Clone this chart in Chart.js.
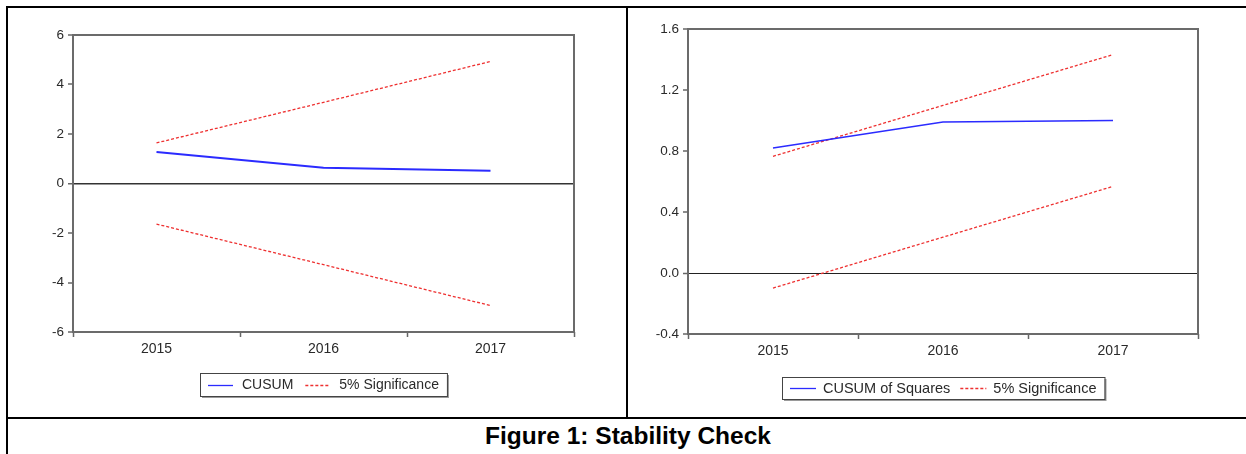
<!DOCTYPE html>
<html><head><meta charset="utf-8">
<script src="https://cdn.jsdelivr.net/npm/chart.js@4.4.1/dist/chart.umd.min.js"></script>
<style>
html,body{margin:0;padding:0;background:#fff;width:1246px;height:454px;overflow:hidden;position:relative;}
.ln{position:absolute;background:#000;}
canvas{position:absolute;}
#title{position:absolute;left:0;width:1256px;top:424px;text-align:center;font:bold 24.5px "Liberation Sans",Arial,sans-serif;line-height:24px;color:#000;}
</style></head><body>
<div class="ln" style="left:6px;top:6px;width:1240px;height:2px"></div>
<div class="ln" style="left:6px;top:6px;width:2px;height:448px"></div>
<div class="ln" style="left:626px;top:6px;width:2px;height:412px"></div>
<div class="ln" style="left:6px;top:417px;width:1240px;height:2px"></div>
<canvas id="c1" width="618" height="409" style="left:8px;top:8px"></canvas>
<canvas id="c2" width="618" height="409" style="left:628px;top:8px"></canvas>
<div id="title">Figure 1: Stability Check</div>
<script>
// ---- data ----
const years = ['2015', '2016', '2017'];
const cusum = [1.27, 0.64, 0.52];
const cusumUpper = [1.64, 3.28, 4.93];
const cusumLower = [-1.64, -3.28, -4.93];
const cusumSq = [0.82, 0.99, 1.0];
const sqUpper = [0.765, 1.099, 1.432];
const sqLower = [-0.099, 0.235, 0.568];
const leftTicks = [-6, -4, -2, 0, 2, 4, 6];
const rightTicks = [-0.4, 0.0, 0.4, 0.8, 1.2, 1.6];
const labelsLeft = ['CUSUM', '5% Significance'];
const labelsRight = ['CUSUM of Squares', '5% Significance'];

const FONT = '"Liberation Sans", Arial, sans-serif';
const BLUE = '#2b2bff';
const RED = '#ee3030';

const frame = {
  id: 'frame',
  beforeDatasetsDraw(chart) {
    const {ctx, chartArea: a} = chart;
    ctx.save();
    ctx.strokeStyle = '#6b6b6b';
    ctx.lineWidth = 2;
    ctx.strokeRect(a.left, a.top, a.right - a.left, a.bottom - a.top);
    ctx.restore();
  }
};

const boxLegend = {
  id: 'boxLegend',
  afterDraw(chart, args, o) {
    const ctx = chart.ctx, a = chart.chartArea, ds = chart.data.datasets;
    const items = [0, 1];
    ctx.save();
    ctx.font = o.fontSize + 'px ' + FONT;
    const widths = items.map(i => ctx.measureText(ds[i].label).width);
    const w = o.pad * 2 + items.length * (o.sample + o.gap) + widths.reduce((s, v) => s + v, 0) + (items.length - 1) * o.sep;
    const cx = (a.left + a.right) / 2;
    const x0 = Math.round(cx - w / 2), y0 = Math.round(a.bottom + o.offset), h = o.height;
    ctx.fillStyle = '#9a9a9a';
    ctx.fillRect(x0 + 2, y0 + 2, w, h);
    ctx.fillStyle = '#fff';
    ctx.fillRect(x0, y0, w, h);
    ctx.strokeStyle = '#444';
    ctx.lineWidth = 1;
    ctx.strokeRect(x0 + 0.5, y0 + 0.5, w, h);
    let x = x0 + o.pad;
    const ym = y0 + h / 2;
    items.forEach((i, k) => {
      const d = ds[i];
      ctx.beginPath();
      ctx.setLineDash(d.borderDash || []);
      ctx.strokeStyle = d.borderColor;
      ctx.lineWidth = 1.3;
      ctx.moveTo(x, Math.round(ym) + 0.5);
      ctx.lineTo(x + o.sample, Math.round(ym) + 0.5);
      ctx.stroke();
      ctx.setLineDash([]);
      x += o.sample + o.gap;
      ctx.fillStyle = '#2a2a2a';
      ctx.textBaseline = 'middle';
      ctx.fillText(d.label, x, ym + 1);
      x += widths[k] + o.sep;
    });
    ctx.restore();
  }
};

function makeChart(id, cfg) {
  const isZero = v => Math.abs(v) < 1e-9;
  return new Chart(document.getElementById(id), {
    type: 'line',
    data: {
      labels: years,
      datasets: [
        {label: cfg.labels[0], data: cfg.main, borderColor: BLUE, borderWidth: cfg.mainWidth, pointRadius: 0, tension: 0},
        {label: cfg.labels[1], data: cfg.upper, borderColor: RED, borderWidth: 1.3, borderDash: [3, 2], pointRadius: 0, tension: 0},
        {label: cfg.labels[1], data: cfg.lower, borderColor: RED, borderWidth: 1.3, borderDash: [3, 2], pointRadius: 0, tension: 0}
      ]
    },
    options: {
      responsive: false,
      animation: false,
      events: [],
      layout: {padding: cfg.padding},
      plugins: {
        legend: {display: false},
        tooltip: {enabled: false},
        boxLegend: cfg.legend
      },
      scales: {
        x: {
          type: 'category',
          offset: true,
          grid: {offset: true, color: 'transparent', tickColor: '#666', tickLength: 5, tickWidth: 1.5},
          border: {display: false},
          ticks: {color: '#2a2a2a', font: {family: FONT, size: 14}, padding: 4, maxRotation: 0},
          afterFit: s => { s.height = 30; }
        },
        y: {
          min: cfg.ticks[0],
          max: cfg.ticks[cfg.ticks.length - 1],
          afterBuildTicks: s => { s.ticks = cfg.ticks.map(v => ({value: v})); },
          grid: {
            color: c => (c.tick && isZero(c.tick.value)) ? cfg.zeroColor : 'transparent',
            lineWidth: c => (c.tick && isZero(c.tick.value)) ? cfg.zeroWidth : 0,
            tickColor: '#666', tickLength: 5, tickWidth: 1.5
          },
          border: {display: false},
          ticks: {
            color: '#2a2a2a', font: {family: FONT, size: 13.5}, padding: 4,
            callback: v => cfg.fmt(v)
          },
          afterFit: s => { s.width = cfg.yWidth; }
        }
      }
    },
    plugins: [frame, boxLegend]
  });
}

makeChart('c1', {
  labels: labelsLeft, main: cusum, upper: cusumUpper, lower: cusumLower, mainWidth: 2,
  ticks: leftTicks, fmt: v => String(v), yWidth: 65,
  padding: {left: 0, top: 27, right: 52, bottom: 55},
  zeroColor: '#333', zeroWidth: 1.5,
  legend: {fontSize: 14, pad: 8, sample: 25, gap: 9, sep: 12, offset: 41, height: 23}
});
makeChart('c2', {
  labels: labelsRight, main: cusumSq, upper: sqUpper, lower: sqLower, mainWidth: 1.5,
  ticks: rightTicks, fmt: v => v.toFixed(1), yWidth: 60,
  padding: {left: 0, top: 21, right: 48, bottom: 53},
  zeroColor: '#222', zeroWidth: 1,
  legend: {fontSize: 14.5, pad: 8, sample: 26, gap: 7, sep: 10, offset: 43, height: 22}
});
</script>
</body></html>
